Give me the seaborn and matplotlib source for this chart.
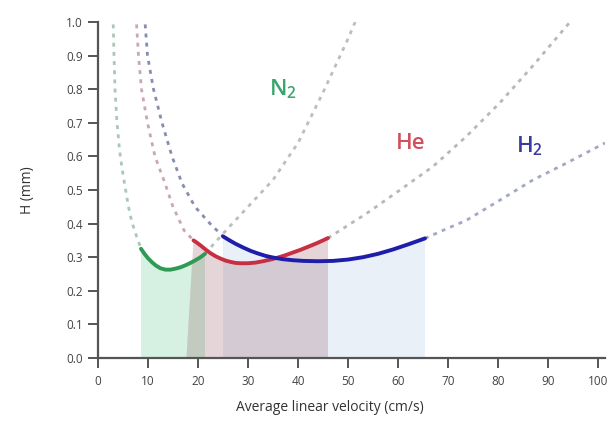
import matplotlib
matplotlib.use("Agg")
import matplotlib.pyplot as plt
import seaborn as sns

# ---- data (velocity cm/s, H mm) ----
n2_left_u = [3.0, 3.2, 3.4, 3.8, 4.3, 4.8, 5.3, 6.1, 6.7, 7.3, 8.0, 8.6]
n2_left_h = [1.02, 0.90, 0.80, 0.70, 0.62, 0.565, 0.52, 0.45, 0.41, 0.38, 0.35, 0.325]
n2_mid_u = [8.6, 9.3, 10.0, 10.8, 11.6, 12.5, 13.5, 14.5, 15.5, 16.5, 17.5, 18.5, 19.5, 20.5, 21.4]
n2_mid_h = [0.325, 0.31, 0.297, 0.285, 0.275, 0.267, 0.263, 0.263, 0.266, 0.27, 0.276, 0.283, 0.291, 0.30, 0.31]
n2_right_u = [21.4, 25.0, 30.0, 35.0, 40.0, 45.0, 50.0, 52.0]
n2_right_h = [0.31, 0.37, 0.45, 0.53, 0.64, 0.79, 0.95, 1.02]

he_left_u = [7.6, 8.1, 8.7, 9.9, 11.4, 13.4, 15.0, 17.2, 19.1]
he_left_h = [1.02, 0.90, 0.80, 0.70, 0.60, 0.52, 0.45, 0.38, 0.35]
he_mid_u = [19.1, 19.8, 20.6, 21.5, 22.5, 23.5, 24.5, 25.5, 26.5, 27.5, 28.5, 30.0,
            31.5, 33.0, 34.5, 36.0, 37.5, 39.0, 40.5, 42.0, 43.5, 45.0, 46.0]
he_mid_h = [0.35, 0.343, 0.334, 0.323, 0.312, 0.303, 0.296, 0.29, 0.286, 0.283, 0.282, 0.282,
            0.284, 0.288, 0.293, 0.299, 0.306, 0.314, 0.322, 0.331, 0.34, 0.35, 0.357]
he_right_u = [46.0, 53.7, 60.4, 67.0, 73.7, 80.4, 87.0, 94.4, 95.5]
he_right_h = [0.357, 0.43, 0.50, 0.57, 0.66, 0.76, 0.87, 1.0, 1.02]

h2_left_u = [9.3, 9.9, 11.1, 12.8, 14.8, 16.8, 19.4, 22.4, 25.0]
h2_left_h = [1.02, 0.90, 0.80, 0.70, 0.60, 0.52, 0.45, 0.40, 0.362]
h2_mid_u = [25.0, 26.2, 27.5, 29.0, 30.5, 32.0, 33.5, 35.0, 37.0, 39.0, 41.0, 44.0,
            47.0, 50.0, 53.0, 56.0, 59.0, 62.0, 65.4]
h2_mid_h = [0.362, 0.351, 0.34, 0.329, 0.319, 0.311, 0.304, 0.299, 0.294, 0.291, 0.289, 0.288,
            0.289, 0.293, 0.30, 0.31, 0.323, 0.338, 0.356]
h2_right_u = [65.4, 69.0, 73.7, 80.4, 87.0, 93.7, 101.4]
h2_right_h = [0.356, 0.38, 0.41, 0.47, 0.53, 0.58, 0.64]

he_fill_start = 17.7  # bottom-left corner of slanted He band

x_ticks = [0, 10, 20, 30, 40, 50, 60, 70, 80, 90, 100]
y_ticks = [0.0, 0.1, 0.2, 0.3, 0.4, 0.5, 0.6, 0.7, 0.8, 0.9, 1.0]

sns.set_style("ticks")
plt.rcParams["font.family"] = ["Open Sans", "DejaVu Sans"]
plt.rcParams["mathtext.fontset"] = "custom"
plt.rcParams["mathtext.rm"] = "Open Sans"
plt.rcParams["mathtext.default"] = "regular"

fig = plt.figure(figsize=(6.08, 4.24), dpi=100)
ax = fig.add_axes([98 / 608, 66 / 424, 507 / 608, 336 / 424])

# ---- shaded areas ----
g_fill = ax.fill([n2_mid_u[0]] + n2_mid_u + [n2_mid_u[-1]],
                 [0] + n2_mid_h + [0], color="#d6f0e2", lw=0, zorder=1)[0]
red_x = [he_fill_start] + he_mid_u + [he_mid_u[-1]]
red_y = [0] + he_mid_h + [0]
ax.fill(red_x, red_y, color="#e6d5d8", lw=0, zorder=1)
b_fill = ax.fill([h2_mid_u[0]] + h2_mid_u + [h2_mid_u[-1]],
                 [0] + h2_mid_h + [0], color="#e9f0f8", lw=0, zorder=1)[0]
# overlaps (multiplied colours)
ov1 = ax.fill(red_x, red_y, color="#c3cbc0", lw=0, zorder=2)[0]
ov1.set_clip_path(g_fill)
ov2 = ax.fill(red_x, red_y, color="#d3cad3", lw=0, zorder=2)[0]
ov2.set_clip_path(b_fill)

# ---- dashed extensions ----
dot = (0, (1.4, 1.9))
dlw = 2.0
sns.lineplot(x=n2_left_u, y=n2_left_h, sort=False, ax=ax, color="#a9c9b6", lw=dlw, linestyle=dot, zorder=3)
sns.lineplot(x=n2_right_u, y=n2_right_h, sort=False, ax=ax, color="#bcbebc", lw=dlw, linestyle=dot, zorder=3)
sns.lineplot(x=he_left_u, y=he_left_h, sort=False, ax=ax, color="#cba7b0", lw=dlw, linestyle=dot, zorder=3)
sns.lineplot(x=he_right_u, y=he_right_h, sort=False, ax=ax, color="#bdb6b8", lw=dlw, linestyle=dot, zorder=3)
sns.lineplot(x=h2_left_u, y=h2_left_h, sort=False, ax=ax, color="#868daf", lw=dlw, linestyle=dot, zorder=3)
sns.lineplot(x=h2_right_u, y=h2_right_h, sort=False, ax=ax, color="#a2a8c4", lw=dlw, linestyle=dot, zorder=3)

# ---- solid optimal regions ----
slw = 2.8
sns.lineplot(x=n2_mid_u, y=n2_mid_h, sort=False, ax=ax, color="#2f9a55", lw=slw, zorder=4)
sns.lineplot(x=he_mid_u, y=he_mid_h, sort=False, ax=ax, color="#c63040", lw=slw, zorder=4)
sns.lineplot(x=h2_mid_u, y=h2_mid_h, sort=False, ax=ax, color="#1e1eab", lw=slw, zorder=5)

# ---- gas labels ----
ax.text(36.9, 0.80, "N$_2$", color="#3aa56e", fontsize=16, ha="center", va="center", fontweight="semibold")
ax.text(62.6, 0.637, "He", color="#d0505c", fontsize=16, ha="center", va="center", fontweight="semibold")
ax.text(86.4, 0.63, "H$_2$", color="#3a3a9e", fontsize=16, ha="center", va="center", fontweight="semibold")

# ---- axes styling ----
ax.set_xlim(0, 101.4)
ax.set_ylim(0, 1.0)
ax.set_xticks(x_ticks)
ax.set_yticks(y_ticks)
ax.set_xticklabels([str(t) for t in x_ticks])
ax.set_yticklabels([f"{t:.1f}" for t in y_ticks])
for side in ["top", "right"]:
    ax.spines[side].set_visible(False)
for side in ["left", "bottom"]:
    ax.spines[side].set_color("#555555")
    ax.spines[side].set_linewidth(1.6)
ax.tick_params(axis="both", direction="out", length=7, width=1.4, color="#555555",
               labelsize=8.5, labelcolor="#444444")
ax.tick_params(axis="x", pad=5)
ax.tick_params(axis="y", pad=4)
ax.set_xlabel("Average linear velocity (cm/s)", fontsize=10, color="#333333")
ax.set_ylabel("H (mm)", fontsize=10, color="#333333")
ax.xaxis.set_label_coords((330 - 98) / 507, -0.125)
ax.yaxis.set_label_coords(-0.125, 0.5)
ax.set_facecolor("white")
ax.grid(False)

fig.savefig("out.png", dpi=100)
